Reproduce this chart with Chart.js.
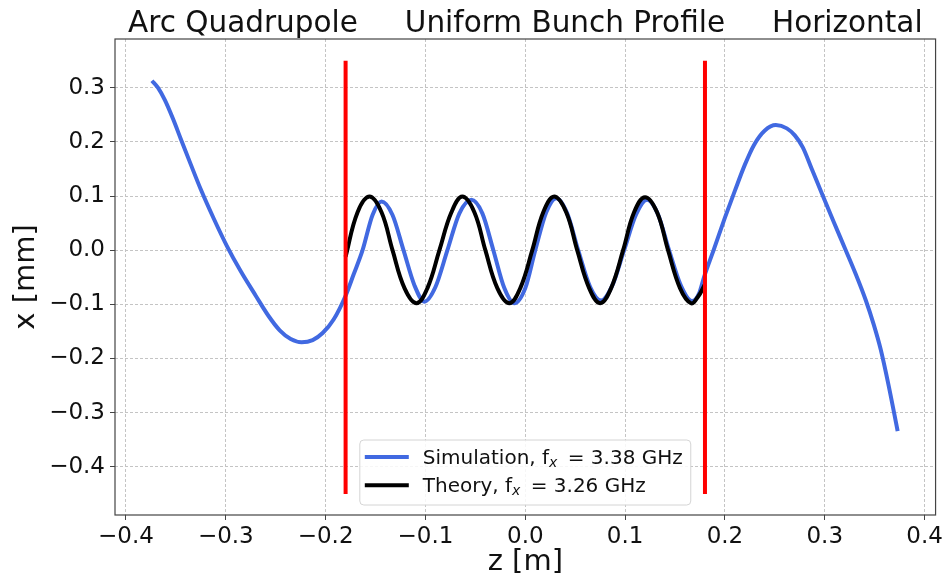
<!DOCTYPE html>
<html>
<head>
<meta charset="utf-8">
<script src="https://cdn.jsdelivr.net/npm/chart.js@4.4.1/dist/chart.umd.min.js"></script>
<style>
  html, body { margin: 0; padding: 0; background: #fff; }
  #chart { display: block; }
</style>
</head>
<body>
<canvas id="chart" width="946" height="582"></canvas>
<script>
// --- DATA ---
const simZ = [-0.374, -0.368, -0.361, -0.353, -0.345, -0.335, -0.325, -0.312, -0.299, -0.285, -0.270, -0.257,
  -0.246, -0.235, -0.224, -0.213, -0.203, -0.192,
  -0.180, -0.172, -0.163, -0.153, -0.144, -0.133, -0.122, -0.111, -0.101, -0.090, -0.078, -0.066, -0.054,
  -0.043, -0.032, -0.021, -0.011, 0.000, 0.010, 0.021, 0.031, 0.042, 0.053, 0.065, 0.076, 0.087, 0.099,
  0.111, 0.122, 0.133, 0.144, 0.156, 0.167, 0.174,
  0.179, 0.189, 0.200, 0.210, 0.220, 0.229, 0.240, 0.251, 0.262, 0.270, 0.278, 0.287, 0.297, 0.309,
  0.321, 0.331, 0.341, 0.349, 0.356, 0.364, 0.373];
const simX = [0.313, 0.300, 0.277, 0.243, 0.205, 0.158, 0.112, 0.058, 0.008, -0.039, -0.084, -0.122,
  -0.148, -0.164, -0.170, -0.166, -0.153, -0.128,
  -0.084, -0.045, 0.000, 0.065, 0.090, 0.065, 0.000, -0.065, -0.095, -0.068, 0.000, 0.068, 0.093,
  0.068, 0.000, -0.070, -0.098, -0.070, 0.000, 0.070, 0.096, 0.068, 0.000, -0.068, -0.093, -0.066, 0.000,
  0.066, 0.093, 0.066, 0.000, -0.066, -0.094, -0.080,
  -0.050, 0.002, 0.060, 0.110, 0.158, 0.194, 0.221, 0.231, 0.225, 0.212, 0.190, 0.150, 0.105, 0.052,
  0.000, -0.044, -0.092, -0.137, -0.183, -0.250, -0.334];

const theoryZ = [-0.180, -0.168, -0.156, -0.144, -0.133, -0.121, -0.109, -0.098, -0.086, -0.074, -0.063,
  -0.051, -0.040, -0.028, -0.016, -0.005, 0.007, 0.018, 0.029, 0.041, 0.052, 0.064, 0.075, 0.086, 0.098,
  0.109, 0.120, 0.132, 0.143, 0.155, 0.166, 0.173, 0.180];
const theoryX = [-0.012, 0.070, 0.099, 0.070, 0.000, -0.070, -0.098, -0.070, 0.000, 0.070, 0.099,
  0.070, 0.000, -0.070, -0.098, -0.070, 0.000, 0.070, 0.099, 0.070, 0.000, -0.070, -0.098, -0.070, 0.000,
  0.070, 0.098, 0.070, 0.000, -0.070, -0.098, -0.086, -0.063];

const markerZ = [-0.18, 0.18];        // red bunch edges
const markerSpan = [-0.45, 0.35];

const zTicks = [-0.4, -0.3, -0.2, -0.1, 0.0, 0.1, 0.2, 0.3, 0.4];
const xTicks = [-0.4, -0.3, -0.2, -0.1, 0.0, 0.1, 0.2, 0.3];

const simLabel = 'Simulation, f_x = 3.38 GHz';
const theoryLabel = 'Theory, f_x = 3.26 GHz';
const titleText = 'Arc Quadrupole     Uniform Bunch Profile     Horizontal';

const FONT = "'DejaVu Sans', sans-serif";
const INK = '#111';
const SPINE = '#444';

const pts = (zs, xs) => zs.map((z, i) => ({ x: z, y: xs[i] }));
const fmt = v => (Math.abs(v) < 1e-9 ? 0 : v).toFixed(1).replace('-', '\u2212');

// --- PLUGINS ---
// title centred over the axes, like matplotlib's set_title
const axesTitle = {
  id: 'axesTitle',
  afterDraw(chart) {
    const { ctx, chartArea: a } = chart;
    ctx.save();
    ctx.font = `29.5px ${FONT}`;
    ctx.fillStyle = INK;
    ctx.textAlign = 'center';
    ctx.textBaseline = 'alphabetic';
    ctx.fillText(titleText, (a.left + a.right) / 2, a.top - 7);
    ctx.restore();
  }
};

const frame = {
  id: 'frame',
  afterDraw(chart) {
    const { ctx, chartArea: a } = chart;
    ctx.save();
    ctx.strokeStyle = SPINE;
    ctx.lineWidth = 1.2;
    ctx.strokeRect(a.left, a.top, a.right - a.left, a.bottom - a.top);
    ctx.restore();
  }
};

// matplotlib-ish legend, lower center, with a subscript x
const boxLegend = {
  id: 'boxLegend',
  afterDraw(chart) {
    const { ctx, chartArea: a } = chart;
    const items = chart.data.datasets.filter(d => d.legend);
    const fs = 20, sub = 14;
    const handle = 44, gap = 14, padL = 5, padR = 8, rowH = 28.3, boxH = 65;
    const parts = items.map(d => d.label.split('_x'));

    ctx.save();
    const widthOf = p => {
      ctx.font = `${fs}px ${FONT}`;
      let w = ctx.measureText(p[0]).width + ctx.measureText(p[1]).width + 4;
      ctx.font = `italic ${sub}px ${FONT}`;
      return w + ctx.measureText('x').width;
    };
    const textW = Math.max(...parts.map(widthOf));
    const boxW = padL + handle + gap + textW + padR;
    const cx = (a.left + a.right) / 2;
    const left = cx - boxW / 2;
    const top = a.bottom - 10 - boxH;

    ctx.beginPath();
    ctx.roundRect(left, top, boxW, boxH, 4);
    ctx.fillStyle = 'rgba(255,255,255,0.85)';
    ctx.fill();
    ctx.strokeStyle = '#d4d4d4';
    ctx.lineWidth = 1;
    ctx.stroke();

    items.forEach((d, i) => {
      const y = top + 17 + i * rowH;
      ctx.beginPath();
      ctx.moveTo(left + padL, y);
      ctx.lineTo(left + padL + handle, y);
      ctx.strokeStyle = d.borderColor;
      ctx.lineWidth = d.borderWidth;
      ctx.stroke();

      let x = left + padL + handle + gap;
      const base = y + 7;
      ctx.fillStyle = INK;
      ctx.textBaseline = 'alphabetic';
      ctx.font = `${fs}px ${FONT}`;
      ctx.fillText(parts[i][0], x, base);
      x += ctx.measureText(parts[i][0]).width;
      ctx.font = `italic ${sub}px ${FONT}`;
      ctx.fillText('x', x, base + 3);
      x += ctx.measureText('x').width + 4;
      ctx.font = `${fs}px ${FONT}`;
      ctx.fillText(parts[i][1], x, base);
    });
    ctx.restore();
  }
};

// --- CHART ---
const markerSets = markerZ.map(z => ({
  label: 'edge',
  data: pts([z, z], markerSpan),
  borderColor: '#ff0000',
  borderWidth: 4,
  pointRadius: 0,
  showLine: true,
  order: 0
}));

const gridOpts = {
  color: '#c4c4c4',
  lineWidth: 1,
  drawTicks: true,
  tickLength: 5,
  tickColor: SPINE,
  tickWidth: 1,
  tickBorderDash: []
};
const borderOpts = { display: false, dash: [3, 2] };

new Chart(document.getElementById('chart'), {
  type: 'scatter',
  data: {
    datasets: [
      {
        label: simLabel, legend: true,
        data: pts(simZ, simX),
        borderColor: '#4169e1', borderWidth: 4,
        pointRadius: 0, showLine: true,
        cubicInterpolationMode: 'monotone',
        order: 2
      },
      {
        label: theoryLabel, legend: true,
        data: pts(theoryZ, theoryX),
        borderColor: '#000000', borderWidth: 4,
        pointRadius: 0, showLine: true,
        tension: 0.4,
        order: 1
      },
      ...markerSets
    ]
  },
  options: {
    responsive: false,
    animation: false,
    devicePixelRatio: 1,
    layout: { padding: { left: 0, right: 9, top: 39, bottom: 0 } },
    plugins: {
      legend: { display: false },
      tooltip: { enabled: false },
      title: { display: false }
    },
    scales: {
      x: {
        type: 'linear',
        min: -0.411, max: 0.411,
        afterBuildTicks: s => { s.ticks = zTicks.map(v => ({ value: v })); },
        afterFit: s => { s.height = 67; },
        grid: gridOpts,
        border: borderOpts,
        ticks: { color: INK, padding: 3, font: { family: FONT, size: 23 }, callback: fmt },
        title: { display: true, text: 'z [m]', color: INK, font: { family: FONT, size: 29 }, padding: { top: 0, bottom: 2 } }
      },
      y: {
        type: 'linear',
        min: -0.489, max: 0.390,
        afterBuildTicks: s => { s.ticks = xTicks.map(v => ({ value: v })); },
        afterFit: s => { s.width = 115; },
        grid: gridOpts,
        border: borderOpts,
        ticks: { color: INK, padding: 5, font: { family: FONT, size: 23 }, callback: fmt },
        title: { display: true, text: 'x [mm]', color: INK, font: { family: FONT, size: 29 }, padding: { top: 9, bottom: 0 } }
      }
    }
  },
  plugins: [frame, boxLegend, axesTitle]
});
</script>
</body>
</html>
